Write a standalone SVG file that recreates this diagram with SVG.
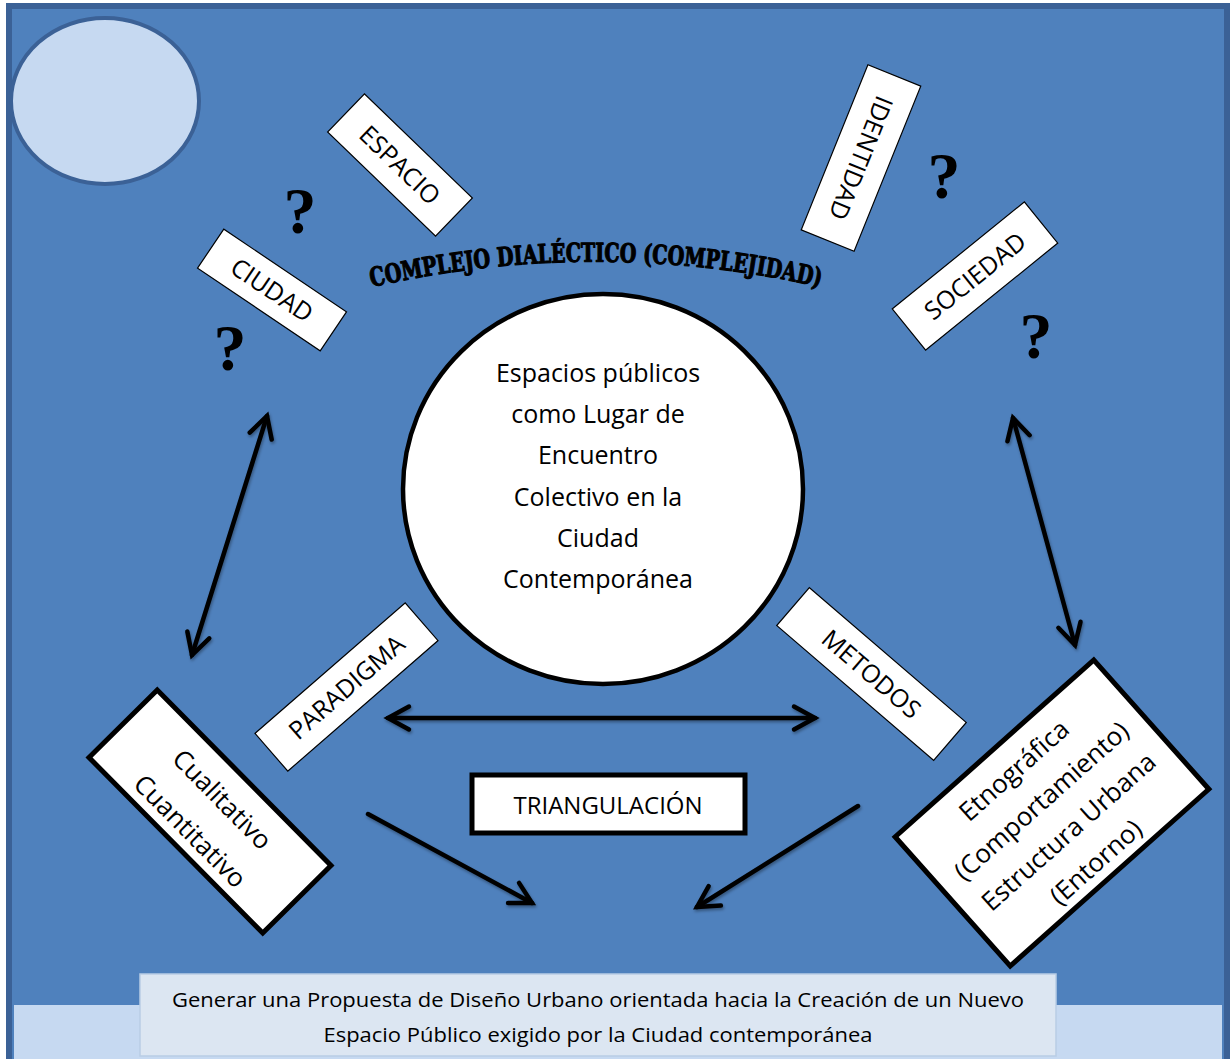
<svg xmlns="http://www.w3.org/2000/svg" width="1231" height="1059" viewBox="0 0 1231 1059">
  <style>
    .lbl { fill: #ffffff; stroke: #000000; stroke-width: 1.2; }
    .box { fill: #ffffff; stroke: #000000; stroke-width: 5; stroke-linejoin: miter; }
    .t { font-family: "Open Sans", "Noto Sans", "Liberation Sans", sans-serif; fill: #000000; text-anchor: middle; }
    .s24 { font-size: 24px; }
    .s25 { font-size: 25px; }
    .s26 { font-size: 26px; }
    .q { font-family: "Liberation Serif", "DejaVu Serif", serif; font-weight: bold; font-size: 66px; fill: #000000; text-anchor: middle; }
    .arc { font-family: "DejaVu Serif Condensed", "DejaVu Serif", serif; font-weight: 900; font-size: 26px; fill: #000000; stroke: #000000; stroke-width: 1.1; stroke-linejoin: round; }
    .conn { fill: none; stroke: #000000; stroke-width: 4.5; stroke-linecap: round; }
    .foot { font-family: "Open Sans", "Noto Sans", "Liberation Sans", sans-serif; font-size: 20px; fill: #000000; text-anchor: middle; }
  </style>
  <defs>
    <marker id="head" markerUnits="userSpaceOnUse" markerWidth="40" markerHeight="40" viewBox="-30 -20 40 40" refX="0" refY="0" orient="auto-start-reverse">
      <path d="M-21,-11.5 L0,0 L-21,11.5" fill="none" stroke="#000000" stroke-width="4.5" stroke-linecap="round" stroke-linejoin="miter"/>
    </marker>
    <filter id="shadow" x="-20%" y="-20%" width="140%" height="140%">
      <feDropShadow dx="1" dy="2" stdDeviation="1.5" flood-color="#000000" flood-opacity="0.35"/>
    </filter>
    <path id="arcPath" d="M 368,288 A 1000,1000 0 0 1 824,288"/>
  </defs>

  <!-- page background -->
  <rect x="0" y="0" width="1231" height="1059" fill="#ffffff"/>
  <rect x="9" y="6" width="1218" height="1060" fill="#4f81bd" stroke="#3b6196" stroke-width="6"/>
  <rect x="14" y="1005" width="1208" height="54" fill="#c6d9f1"/>

  <!-- decorative disc -->
  <ellipse id="disc" cx="105" cy="101" rx="94" ry="83" fill="#c6d9f1" stroke="#3b6196" stroke-width="4"/>

  <!-- connectors -->
  <g id="connectors" filter="url(#shadow)">
    <line class="conn" x1="267" y1="416" x2="192" y2="655" marker-start="url(#head)" marker-end="url(#head)"/>
    <line class="conn" x1="1013" y1="418" x2="1075" y2="645" marker-start="url(#head)" marker-end="url(#head)"/>
    <line class="conn" x1="388" y1="718" x2="815" y2="718" marker-start="url(#head)" marker-end="url(#head)"/>
    <line class="conn" x1="368" y1="814" x2="532" y2="903" marker-end="url(#head)"/>
    <line class="conn" x1="858" y1="806" x2="697" y2="907" marker-end="url(#head)"/>
  </g>

  <!-- central node -->
  <g id="n-centro">
    <ellipse cx="603" cy="489" rx="200" ry="195" fill="#ffffff" stroke="#000000" stroke-width="4.5"/>
    <text class="t s25" x="598" y="382">Espacios públicos</text>
    <text class="t s25" x="598" y="423">como Lugar de</text>
    <text class="t s25" x="598" y="464">Encuentro</text>
    <text class="t s25" x="598" y="506">Colectivo en la</text>
    <text class="t s25" x="598" y="547">Ciudad</text>
    <text class="t s25" x="598" y="588">Contemporánea</text>
  </g>

  <!-- arched title -->
  <g id="n-complejo">
    <text class="arc"><textPath href="#arcPath" startOffset="50%" text-anchor="middle" textLength="452" lengthAdjust="spacingAndGlyphs">COMPLEJO DIALÉCTICO (COMPLEJIDAD)</textPath></text>
  </g>

  <!-- tilted labels -->
  <g id="n-espacio" transform="translate(400,165) rotate(44)">
    <rect class="lbl" x="-75" y="-26.5" width="150" height="53"/>
    <text class="t s25" x="0" y="9">ESPACIO</text>
  </g>
  <g id="n-ciudad" transform="translate(272,290) rotate(34)">
    <rect class="lbl" x="-74" y="-23.5" width="148" height="47"/>
    <text class="t s25" x="0" y="9">CIUDAD</text>
  </g>
  <g id="n-identidad" transform="translate(861,158) rotate(112)">
    <rect class="lbl" x="-89" y="-28.5" width="178" height="57"/>
    <text class="t s25" x="0" y="9">IDENTIDAD</text>
  </g>
  <g id="n-sociedad" transform="translate(975,276) rotate(-39)">
    <rect class="lbl" x="-85" y="-26.5" width="170" height="53"/>
    <text class="t s25" x="0" y="9">SOCIEDAD</text>
  </g>
  <g id="n-paradigma" transform="translate(346.5,687) rotate(-41)">
    <rect class="lbl" x="-99.5" y="-25" width="199" height="50"/>
    <text class="t s25" x="0" y="9">PARADIGMA</text>
  </g>
  <g id="n-metodos" transform="translate(871.5,674) rotate(40.7)">
    <rect class="lbl" x="-103.5" y="-25" width="207" height="50"/>
    <text class="t s25" x="0" y="9">METODOS</text>
  </g>

  <!-- question marks -->
  <g id="n-preguntas">
    <text class="q" x="300" y="233">?</text>
    <text class="q" x="230" y="370">?</text>
    <text class="q" x="944" y="198">?</text>
    <text class="q" x="1036" y="358">?</text>
  </g>

  <!-- method boxes -->
  <g id="n-cualitativo" transform="translate(210,811.5) rotate(45.3)">
    <rect class="box" x="-123.5" y="-48" width="247" height="96"/>
    <text class="t s26" x="0" y="-8">Cualitativo</text>
    <text class="t s26" x="0" y="37">Cuantitativo</text>
  </g>
  <g id="n-etnografica" transform="translate(1052,813) rotate(-41.7)">
    <rect class="box" x="-133" y="-86.5" width="266" height="173"/>
    <text class="t s26" x="0" y="-48">Etnográfica</text>
    <text class="t s26" x="0" y="-7">(Comportamiento)</text>
    <text class="t s26" x="0" y="34">Estructura Urbana</text>
    <text class="t s26" x="0" y="75">(Entorno)</text>
  </g>
  <g id="n-triangulacion">
    <rect class="box" x="472" y="775" width="273" height="58"/>
    <text class="t s24" x="608" y="814">TRIANGULACIÓN</text>
  </g>

  <!-- outcome -->
  <g id="n-propuesta">
    <rect x="140" y="974" width="916" height="82" fill="#dce6f2" stroke="#b9cde5" stroke-width="1.5"/>
    <text class="foot" x="598" y="1007" textLength="852" lengthAdjust="spacingAndGlyphs">Generar una Propuesta de Diseño Urbano orientada hacia la Creación de un Nuevo</text>
    <text class="foot" x="598" y="1042" textLength="549" lengthAdjust="spacingAndGlyphs">Espacio Público exigido por la Ciudad contemporánea</text>
  </g>
</svg>
